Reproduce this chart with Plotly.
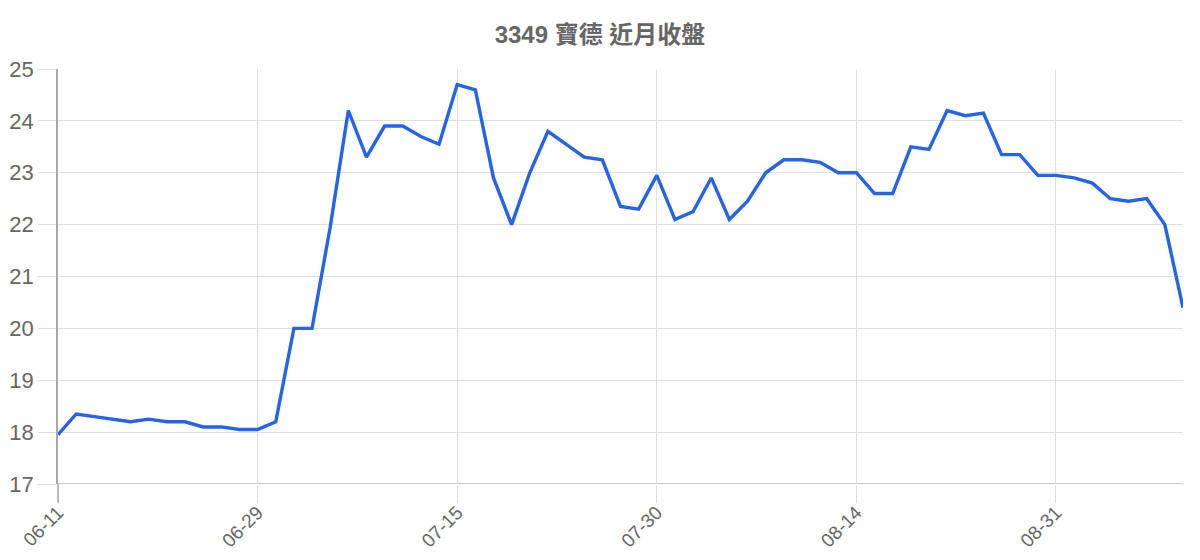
import plotly.graph_objects as go

dates = [
    "06-11", "06-15", "06-16", "06-17", "06-18", "06-21", "06-22", "06-23", "06-24", "06-25", "06-28",
    "06-29", "06-30", "07-01", "07-02", "07-05", "07-06", "07-07", "07-08", "07-09", "07-12", "07-13",
    "07-15", "07-16", "07-19", "07-20", "07-21", "07-22", "07-23", "07-26", "07-27", "07-28", "07-29",
    "07-30", "08-02", "08-03", "08-04", "08-05", "08-06", "08-09", "08-10", "08-11", "08-12", "08-13",
    "08-14", "08-16", "08-17", "08-18", "08-19", "08-20", "08-23", "08-24", "08-25", "08-26", "08-27",
    "08-31", "09-01", "09-02", "09-03", "09-06", "09-07", "09-08", "09-09",
]
close = [
    17.95, 18.35, 18.3, 18.25, 18.2, 18.25, 18.2, 18.2, 18.1, 18.1, 18.05,
    18.05, 18.2, 20.0, 20.0, 21.95, 24.2, 23.3, 23.9, 23.9, 23.7, 23.55,
    24.7, 24.6, 22.9, 22.0, 23.0, 23.8, 23.55, 23.3, 23.25, 22.35, 22.3,
    22.95, 22.1, 22.25, 22.9, 22.1, 22.45, 23.0, 23.25, 23.25, 23.2, 23.0,
    23.0, 22.6, 22.6, 23.5, 23.45, 24.2, 24.1, 24.15, 23.35, 23.35, 22.95,
    22.95, 22.9, 22.8, 22.5, 22.45, 22.5, 22.0, 20.4,
]
tick_labels = ["06-11", "06-29", "07-15", "07-30", "08-14", "08-31"]
y_ticks = [17, 18, 19, 20, 21, 22, 23, 24, 25]
title_text = "3349 寶德 近月收盤"

fig = go.Figure()
fig.add_trace(go.Scatter(
    x=dates, y=close, mode="lines",
    line=dict(color="#2563eb", width=3.4),
    hoverinfo="x+y",
))

font_family = "'Liberation Sans', Arial, sans-serif"
fig.update_layout(
    width=1184, height=552,
    margin=dict(l=50, r=9, t=61, b=76, autoexpand=False),
    paper_bgcolor="white", plot_bgcolor="white",
    showlegend=False,
    title=dict(
        text="<b>" + title_text + "</b>",
        x=0.5, xanchor="center", yref="container", y=0.951, yanchor="middle",
        font=dict(family="'Liberation Sans', 'Noto Sans CJK TC', sans-serif", size=24, color="#666666"),
    ),
    font=dict(family=font_family, color="#666666"),
)
fig.update_xaxes(
    type="category",
    categoryorder="array", categoryarray=dates,
    range=[0, len(dates) - 1],
    tickmode="array", tickvals=tick_labels, ticktext=tick_labels,
    tickangle=-45,
    tickfont=dict(size=19, color="#666666", family=font_family),
    showgrid=True, gridcolor="#e0e0e0", gridwidth=1,
    ticks="outside", ticklen=18, tickcolor="#e0e0e0", tickwidth=1,
    ticklabelstandoff=-9,
    showline=False, zeroline=False, automargin=False,
)
fig.update_yaxes(
    range=[17, 25],
    tickmode="array", tickvals=y_ticks,
    tickfont=dict(size=22, color="#666666", family=font_family),
    showgrid=True, gridcolor="#e0e0e0", gridwidth=1,
    ticks="outside", ticklen=18, tickcolor="#e0e0e0", tickwidth=1,
    showline=True, linecolor="#a8a8a8", linewidth=1.5, mirror=False,
    zeroline=False, automargin=False,
)
fig.add_shape(type="line", xref="paper", yref="y", x0=0, x1=1, y0=17, y1=17,
              line=dict(color="#cccccc", width=2), layer="below")
fig.add_shape(type="line", xref="paper", yref="paper", x0=0, x1=0, y0=0, y1=-0.045,
              line=dict(color="#a8a8a8", width=1.5), layer="above")

fig.write_html("out.html")
